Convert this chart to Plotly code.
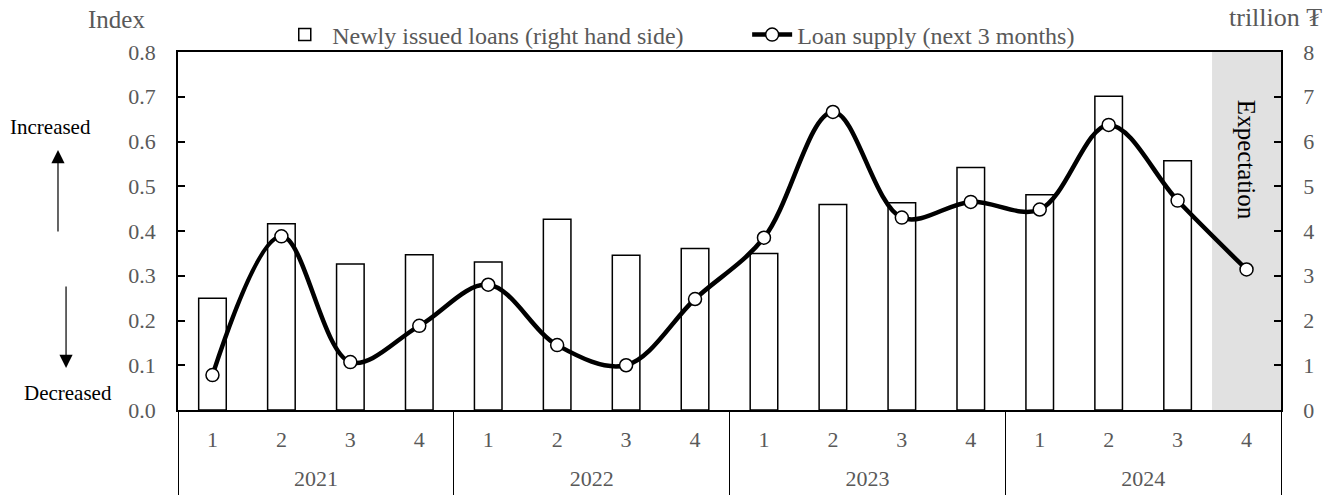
import plotly.graph_objects as go

# Quarterly categories (two-level axis: quarter / year)
years = ["2021"] * 4 + ["2022"] * 4 + ["2023"] * 4 + ["2024"] * 4
quarters = ["1", "2", "3", "4"] * 4

# Newly issued loans, trillion ₮ (right axis); no value yet for 2024 Q4
new_loans = [2.50, 4.16, 3.26, 3.47,
             3.31, 4.26, 3.46, 3.61,
             3.50, 4.59, 4.63, 5.42,
             4.81, 7.01, 5.57, None]

# Loan supply index for the next 3 months (left axis); 2024 Q4 is the expectation
loan_supply = [0.078, 0.388, 0.107, 0.188,
               0.280, 0.145, 0.100, 0.248,
               0.385, 0.666, 0.430, 0.465,
               0.448, 0.637, 0.468, 0.314]

SERIF = "Liberation Serif, Times New Roman, serif"
GREY = "#595959"
LABEL_PX = 22     # visible size of the category labels
AXIS_FONT = 12.5  # base axis font; sets the line step used to space the year row

# Category labels: quarters on the first row, years on a lower second row
quarter_labels = [f"<span style='font-size:{LABEL_PX}px'>{q}</span>" for q in quarters]
year_labels = [f"<br><br><span style='font-size:{LABEL_PX}px'>{y}</span><br>\u00a0" for y in years]
categories = [year_labels, quarter_labels]

fig = go.Figure()

fig.add_trace(go.Bar(
    x=categories, y=new_loans,
    name="Newly issued loans (right hand side)",
    marker=dict(color="white", line=dict(color="black", width=1.5)),
    width=0.4, yaxis="y", legend="legend",
))

fig.add_trace(go.Scatter(
    x=categories, y=loan_supply,
    name="Loan supply (next 3 months)",
    mode="lines+markers",
    line=dict(color="black", width=4.5, shape="spline", smoothing=1),
    marker=dict(size=13, color="white", line=dict(color="black", width=1.5)),
    yaxis="y2", legend="legend2",
))

legend_common = dict(orientation="h", xanchor="left", y=1.0475, yanchor="middle",
                     font=dict(family=SERIF, size=24, color=GREY),
                     bgcolor="rgba(0,0,0,0)")

fig.update_layout(
    width=1333, height=495, autosize=False,
    margin=dict(l=178, r=52, t=52, b=85, autoexpand=False),
    paper_bgcolor="white", plot_bgcolor="white",
    font=dict(family=SERIF, size=22, color=GREY),
    showlegend=True,
    legend=dict(x=0.09, itemwidth=45, **legend_common),
    legend2=dict(x=0.516, itemwidth=40, **legend_common),
    xaxis=dict(
        type="multicategory", range=[-0.5, 15.5],
        showline=True, linecolor="black", linewidth=1.5, mirror=True,
        showgrid=False, zeroline=False, ticks="",
        ticklabelstandoff=20,
        showdividers=True, dividercolor="black", dividerwidth=1.2,
        tickfont=dict(family=SERIF, size=AXIS_FONT, color=GREY),
    ),
    yaxis=dict(
        side="right", range=[0, 8], dtick=1,
        showline=True, linecolor="black", linewidth=1.5,
        ticks="inside", ticklen=7, tickcolor="black", tickwidth=1.5,
        showgrid=False, zeroline=False,
        ticklabelstandoff=16,
        tickfont=dict(family=SERIF, size=22, color=GREY),
    ),
    yaxis2=dict(
        side="left", overlaying="y", anchor="x", range=[0, 0.8], dtick=0.1,
        tickformat=".1f",
        showline=True, linecolor="black", linewidth=1.5,
        ticks="inside", ticklen=7, tickcolor="black", tickwidth=1.5,
        showgrid=False, zeroline=False,
        ticklabelstandoff=16,
        tickfont=dict(family=SERIF, size=22, color=GREY),
    ),
)

# Shaded expectation period (last quarter)
fig.add_shape(type="rect", xref="x", yref="y", x0=14.5, x1=15.5, y0=0, y1=8,
              fillcolor="#e1e1e1", line=dict(width=0), layer="below")

fig.add_annotation(xref="x", yref="y", x=15, y=5.6, text="Expectation",
                   textangle=90, showarrow=False,
                   font=dict(family=SERIF, size=25, color="black"))

# Axis unit labels
fig.add_annotation(xref="paper", yref="paper", x=-0.056, y=1.092, text="Index",
                   xanchor="center", yanchor="middle", showarrow=False,
                   font=dict(family=SERIF, size=25, color=GREY))
fig.add_annotation(xref="paper", yref="paper", x=0.9946, y=1.095, text="trillion ₮",
                   xanchor="center", yanchor="middle", showarrow=False,
                   font=dict(family=SERIF, size=26, color=GREY))

# Direction guides on the left
fig.add_annotation(xref="paper", yref="paper", x=-0.116, y=0.7905, text="Increased",
                   xanchor="center", yanchor="middle", showarrow=False,
                   font=dict(family=SERIF, size=21, color="black"))
fig.add_annotation(xref="paper", yref="paper", x=-0.0997, y=0.0475, text="Decreased",
                   xanchor="center", yanchor="middle", showarrow=False,
                   font=dict(family=SERIF, size=21, color="black"))
fig.add_annotation(xref="paper", yref="paper", x=-0.1088, y=0.7263, text="",
                   showarrow=True, ax=0, ay=83, arrowhead=2, arrowsize=2.2,
                   arrowwidth=1.2, arrowcolor="black")
fig.add_annotation(xref="paper", yref="paper", x=-0.1015, y=0.1173, text="",
                   showarrow=True, ax=0, ay=-83, arrowhead=2, arrowsize=2.2,
                   arrowwidth=1.2, arrowcolor="black")

fig.write_html("out.html")
